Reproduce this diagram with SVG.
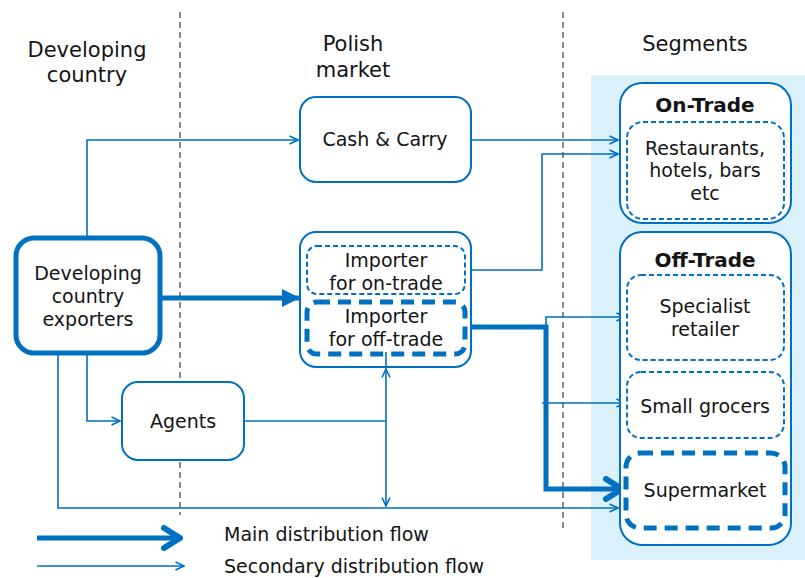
<svg xmlns="http://www.w3.org/2000/svg" width="805" height="578" viewBox="0 0 805 578">
<style>
text{font-family:"DejaVu Sans","Verdana",sans-serif;fill:#141414;text-anchor:middle}
.h{font-size:21px}
.t{font-size:19px}
.b{font-size:20px;font-weight:bold}
.lg{font-size:19px;text-anchor:start}
.box{fill:#fff;stroke:#0070C0;stroke-width:2}
.dash{fill:#fff;stroke:#0070C0;stroke-width:2;stroke-dasharray:5,3}
.thickdash{fill:#fff;stroke:#0070C0;stroke-width:5;stroke-dasharray:13,8}
.thin{fill:none;stroke:#0070C0;stroke-width:1.6}
.thick{fill:none;stroke:#0070C0;stroke-width:5}
.sep{stroke:#6d6d6d;stroke-width:1.6;stroke-dasharray:6,4}
</style>
<defs>
<marker id="a" viewBox="0 0 10 10" refX="9.5" refY="5" markerWidth="10" markerHeight="10" markerUnits="userSpaceOnUse" orient="auto">
<path d="M1,1 L9.5,5 L1,9" fill="none" stroke="#0070C0" stroke-width="1.6"/>
</marker>
<marker id="f" viewBox="0 0 18 18" refX="18" refY="9" markerWidth="18" markerHeight="18" markerUnits="userSpaceOnUse" orient="auto">
<path d="M0,0 L18,9 L0,18 Z" fill="#0070C0"/>
</marker>
<marker id="c" viewBox="0 0 24 26" refX="21" refY="13" markerWidth="24" markerHeight="26" markerUnits="userSpaceOnUse" orient="auto">
<path d="M4,3 L20,13 L4,23" fill="none" stroke="#0070C0" stroke-width="6" stroke-linecap="round" stroke-linejoin="round"/>
</marker>
</defs>
<rect x="591" y="75" width="214" height="485" fill="#DAF0FB"/>
<line class="sep" x1="180" y1="12" x2="180" y2="515"/>
<line class="sep" x1="563" y1="12" x2="563" y2="530"/>
<text class="h" x="87" y="57">Developing</text>
<text class="h" x="87" y="82">country</text>
<text class="h" x="353" y="51">Polish</text>
<text class="h" x="353" y="77">market</text>
<text class="h" x="695" y="51">Segments</text>

<g id="connectors">
<polyline class="thin" points="87,238 87,140 298,140" marker-end="url(#a)"/>
<line class="thin" x1="471" y1="140" x2="618" y2="140" marker-end="url(#a)"/>
<polyline class="thin" points="465,270 542,270 542,154 618,154" marker-end="url(#a)"/>
<line class="thick" x1="160" y1="298" x2="300" y2="298" marker-end="url(#f)"/>
<polyline class="thick" points="467,327 546,327 546,489 623,489" marker-end="url(#c)"/>
<polyline class="thin" points="546,326 546,317 625,317" marker-end="url(#a)"/>
<line class="thin" x1="542" y1="403" x2="625" y2="403" marker-end="url(#a)"/>
<polyline class="thin" points="87,353 87,421 120,421" marker-end="url(#a)"/>
<polyline class="thin" points="58,353 58,508 618,508" marker-end="url(#a)"/>
<line class="thin" x1="244" y1="421" x2="386" y2="421"/>
<line class="thin" x1="386" y1="421" x2="386" y2="369" marker-end="url(#a)"/>
<line class="thin" x1="386" y1="369" x2="386" y2="347"/>
<line class="thin" x1="386" y1="421" x2="386" y2="506" marker-end="url(#a)"/>
<line class="thick" x1="37" y1="538" x2="181" y2="538" marker-end="url(#c)"/>
<line class="thin" x1="37" y1="566" x2="184" y2="566" marker-end="url(#a)"/>
</g>

<g id="exporters">
<rect x="16" y="238" width="144" height="115" rx="18" fill="#fff" stroke="#0070C0" stroke-width="5"/>
<text class="t" x="88" y="280">Developing</text>
<text class="t" x="88" y="303">country</text>
<text class="t" x="88" y="326">exporters</text>
</g>
<g id="cash-carry">
<rect class="box" x="300" y="97" width="171" height="85" rx="16"/>
<text class="t" x="385" y="146">Cash &amp; Carry</text>
</g>
<g id="importer">
<rect class="box" x="300" y="232" width="171" height="135" rx="16"/>
</g>
<g id="importer-on">
<rect class="dash" x="307" y="246" width="158" height="48" rx="10"/>
<text class="t" x="386" y="267">Importer</text>
<text class="t" x="386" y="290">for on-trade</text>
</g>
<g id="importer-off">
<rect class="thickdash" x="307" y="302" width="158" height="52" rx="10" fill="none"/>
<text class="t" x="386" y="323">Importer</text>
<text class="t" x="386" y="346">for off-trade</text>
</g>
<line class="thin" x1="386" y1="352" x2="386" y2="366"/>
<g id="agents">
<rect class="box" x="122" y="382" width="122" height="78" rx="16"/>
<text class="t" x="183" y="428">Agents</text>
</g>
<g id="on-trade">
<rect class="box" x="620" y="83" width="171" height="140" rx="22"/>
<text class="b" x="705" y="112">On-Trade</text>
</g>
<g id="restaurants">
<rect class="dash" x="627" y="122" width="157" height="97" rx="16"/>
<text class="t" x="705" y="155">Restaurants,</text>
<text class="t" x="705" y="177">hotels, bars</text>
<text class="t" x="705" y="200">etc</text>
</g>
<g id="off-trade">
<rect class="box" x="620" y="232" width="171" height="313" rx="22"/>
<text class="b" x="705" y="267">Off-Trade</text>
</g>
<g id="specialist">
<rect class="dash" x="627" y="275" width="157" height="85" rx="14"/>
<text class="t" x="705" y="313">Specialist</text>
<text class="t" x="705" y="336">retailer</text>
</g>
<g id="grocers">
<rect class="dash" x="627" y="372" width="157" height="66" rx="14"/>
<text class="t" x="705" y="413">Small grocers</text>
</g>
<g id="supermarket">
<rect class="thickdash" x="626" y="453" width="159" height="75" rx="14"/>
<text class="t" x="705" y="497">Supermarket</text>
</g>
<g id="legend">
<text class="lg" x="224" y="541">Main distribution flow</text>
<text class="lg" x="224" y="573">Secondary distribution flow</text>
</g>
</svg>
